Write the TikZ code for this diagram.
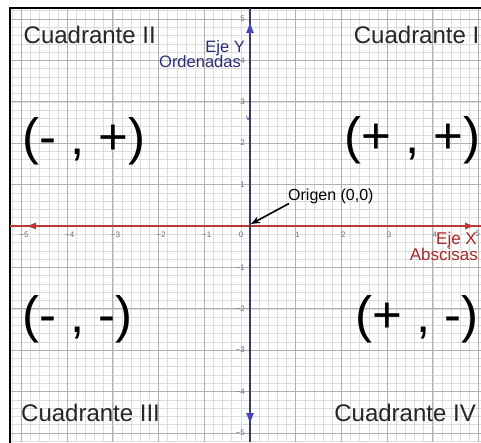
\documentclass[tikz,border=0pt]{standalone}
\usepackage{fontspec}
\setmainfont{Liberation Sans}
\usetikzlibrary{arrows.meta}
\definecolor{navytxt}{HTML}{2E2E78}
\definecolor{axisY}{HTML}{3A3A5E}
\definecolor{tipblue}{HTML}{4646B4}
\definecolor{axisred}{HTML}{B83A3A}
\definecolor{txtred}{HTML}{A82828}
\definecolor{minorgrid}{HTML}{DCDCDC}
\definecolor{majorgrid}{HTML}{B0B0B0}
\definecolor{ticklab}{HTML}{6E6E6E}
\tikzset{
  minorline/.style={draw=minorgrid, line width=0.6pt},
  majorline/.style={draw=majorgrid, line width=0.9pt},
  quadlabel/.style={inner sep=0pt, font=\fontsize{24}{24}\selectfont, text=black!85},
  signlabel/.style={inner sep=0pt, font=\fontsize{51}{51}\selectfont, text=black},
  ticktext/.style={inner sep=0pt, font=\fontsize{8}{8}\selectfont, text=ticklab},
  ylab/.style={inner sep=0pt, font=\fontsize{16.5}{16.5}\selectfont, text=navytxt},
  xlab/.style={inner sep=0pt, font=\fontsize{17}{17}\selectfont, text=txtred},
}
\begin{document}
\begin{tikzpicture}[x=1pt,y=-1pt]
\useasboundingbox (0,0) rectangle (481,442);
\fill[white] (0,0) rectangle (481,442);
% grid
\begin{scope}
\clip (10,8) rectangle (481,442);
\foreach \i in {-27,...,26} \draw[minorline] ({250+\i*9.14},8) -- ({250+\i*9.14},442);
\foreach \j in {-27,...,27} \draw[minorline] (10,{226+\j*8.28}) -- (481,{226+\j*8.28});
\foreach \i in {-6,...,5} \draw[majorline] ({250+\i*45.7},8) -- ({250+\i*45.7},442);
\foreach \j in {-6,...,6} \draw[majorline] (10,{226+\j*41.4}) -- (481,{226+\j*41.4});
\end{scope}
% frame
\draw[line width=2.6pt, black] (10,450) -- (10,8) -- (490,8);
% tick labels
\foreach \i in {-5,...,-1} \node[ticktext] (tx\i) at ({250+\i*45.7+2.5},235) {−\the\numexpr-\i\relax};
\foreach \i in {1,...,4} \node[ticktext] (tx\i) at ({250+\i*45.7+2},235) {\i};
\node[ticktext] (tx5) at (477.5,234) {5};
\node[ticktext] (tx0) at (241,235) {0};
\foreach \j in {1,...,5} \node[ticktext, anchor=east] (ty\j) at (245,{226-\j*41.4}) {\j};
\foreach \j in {1,...,5} \node[ticktext, anchor=east] (tyn\j) at (245,{226+\j*41.4}) {−\j};
% axes
\coordinate (O) at (250,226);
\coordinate (xl) at (10,226);
\coordinate (xr) at (481,226);
\coordinate (yt) at (250,8);
\coordinate (yb) at (250,442);
\draw[axisred, line width=1.8pt] (xl) -- (xr);
\draw[axisY, line width=2.2pt] (yt) -- (yb);
\coordinate (xla) at (37,226);
\coordinate (xlt) at (25,226);
\coordinate (xra) at (464,226);
\coordinate (xrt) at (476,226);
\coordinate (yta) at (250,34);
\coordinate (ytt) at (250,21);
\coordinate (yba) at (250,412);
\coordinate (ybt) at (250,425);
\draw[axisred, line width=1.8pt, -{Latex[length=11pt,width=7pt]}] (xla) -- (xlt);
\draw[axisred, line width=1.8pt, -{Latex[length=11pt,width=7pt]}] (xra) -- (xrt);
\draw[tipblue, line width=1.8pt, -{Latex[length=12pt,width=8pt]}] (yta) -- (ytt);
\draw[tipblue, line width=1.8pt, -{Latex[length=12pt,width=8pt]}] (yba) -- (ybt);
% quadrant titles
\node[quadlabel, anchor=base west] (q2) at (23.5,43) {Cuadrante II};
\node[quadlabel, anchor=base east] (q1) at (479.5,43) {Cuadrante I};
\node[quadlabel, anchor=base west] (q3) at (21,421) {Cuadrante III};
\node[quadlabel, anchor=base east] (q4) at (476,421) {Cuadrante IV};
% signs
\node[signlabel, anchor=base west] (s2) at (22,154) {(- , +)};
\node[signlabel, anchor=base west] (s1) at (344,153) {(+ , +)};
\node[signlabel, anchor=base west] (s3) at (22,332) {(- , -)};
\node[signlabel, anchor=base west] (s4) at (355,332) {(+ , -)};
% axis names
\node[ylab, anchor=base east] (ejey) at (245,52) {Eje Y};
\node[ylab, anchor=base east] (ordn) at (241,67.5) {Ordenadas};
\node[inner sep=0pt, font=\fontsize{8}{8}\selectfont, text=navytxt] (vv) at (248,118) {v};
\node[xlab, anchor=base west] (ejex) at (436,244) {Eje X};
\node[xlab, anchor=base east] (absc) at (478,260) {Abscisas};
% origin
\node[inner sep=0pt, anchor=base west, font=\fontsize{16}{16}\selectfont] (orig) at (288,200) {Origen (0,0)};
\coordinate (Otip) at (251,224);
\draw[black, line width=1.6pt, -{Stealth[length=9pt,width=7pt]}] ([xshift=1pt]orig.south west) -- (Otip);
\end{tikzpicture}
\end{document}
